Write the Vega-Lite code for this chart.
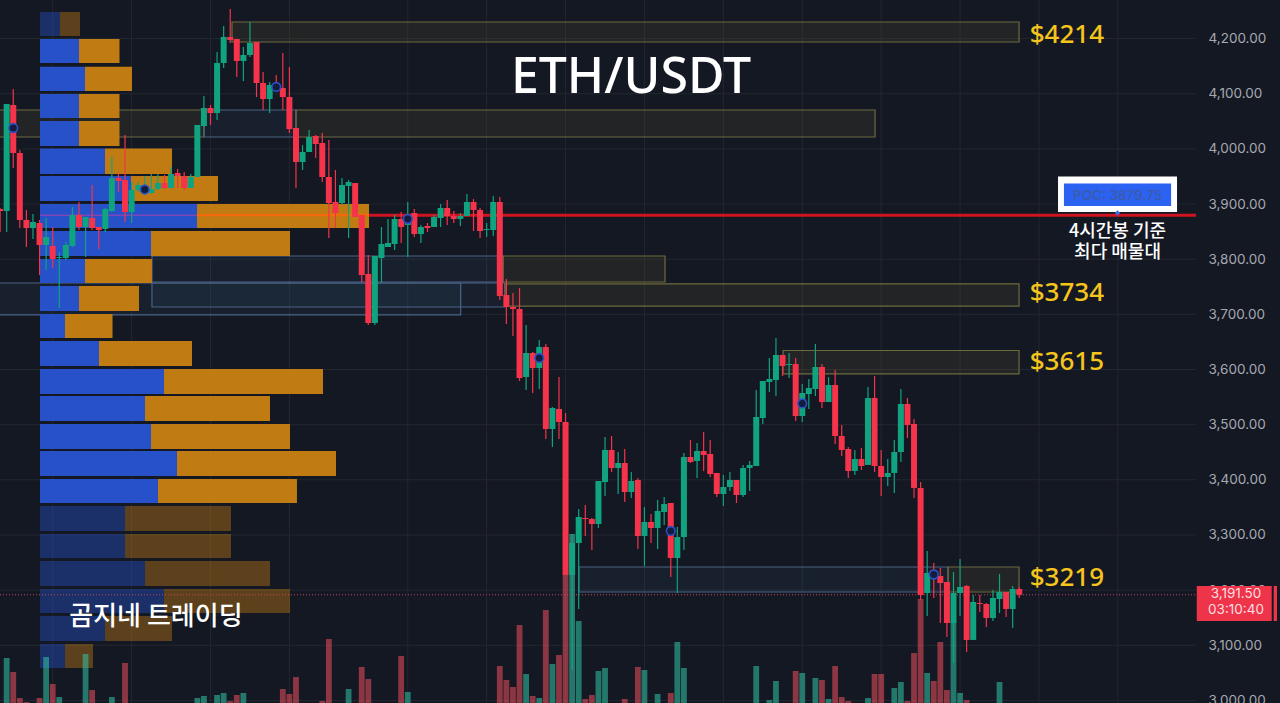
{
  "$schema": "https://vega.github.io/schema/vega-lite/v6.json",
  "width": 1280,
  "height": 703,
  "padding": 0,
  "autosize": {"type": "none"},
  "background": "#141823",
  "config": {"view": {"stroke": null}, "scale": {"continuousPadding": 0}},
  "datasets": {
    "levels": [
      {"price": 3000}, {"price": 3100}, {"price": 3200}, {"price": 3300}, {"price": 3400}, {"price": 3500}, {"price": 3600},
      {"price": 3700}, {"price": 3800}, {"price": 3900}, {"price": 4000}, {"price": 4100}, {"price": 4200}
    ],
    "sessions": [
      {"i": 7}, {"i": 19}, {"i": 31}, {"i": 43}, {"i": 61}, {"i": 73}, {"i": 85}, {"i": 97},
      {"i": 109}, {"i": 121}, {"i": 133}, {"i": 145}, {"i": 157}, {"i": 169}
    ],
    "profile": [
      {"low": 4204.7, "high": 4248.2, "start": 5.07, "split": 8.11, "end": 11.15, "area": "outside"},
      {"low": 4155.8, "high": 4199.3, "start": 5.07, "split": 11.0, "end": 17.16, "area": "value"},
      {"low": 4105, "high": 4149.1, "start": 5.07, "split": 11.91, "end": 19.06, "area": "value"},
      {"low": 4056, "high": 4099.6, "start": 5.07, "split": 11.0, "end": 17.16, "area": "value"},
      {"low": 4005.3, "high": 4050.6, "start": 5.07, "split": 11.0, "end": 17.16, "area": "value"},
      {"low": 3954.5, "high": 4000.8, "start": 5.07, "split": 14.95, "end": 25.15, "area": "value"},
      {"low": 3905.5, "high": 3950.9, "start": 5.07, "split": 18.91, "end": 32.14, "area": "value"},
      {"low": 3856.6, "high": 3900.1, "start": 5.07, "split": 28.95, "end": 55.11, "area": "value"},
      {"low": 3805.8, "high": 3851.1, "start": 5.07, "split": 21.95, "end": 43.09, "area": "value"},
      {"low": 3756.9, "high": 3800.4, "start": 5.07, "split": 11.91, "end": 22.1, "area": "value"},
      {"low": 3706.1, "high": 3751.4, "start": 5.07, "split": 11.0, "end": 20.13, "area": "value"},
      {"low": 3657.1, "high": 3700.7, "start": 5.07, "split": 8.87, "end": 16.1, "area": "value"},
      {"low": 3606.4, "high": 3651.7, "start": 5.07, "split": 14.04, "end": 28.19, "area": "value"},
      {"low": 3555.6, "high": 3600.9, "start": 5.07, "split": 23.93, "end": 48.11, "area": "value"},
      {"low": 3506.6, "high": 3552, "start": 5.07, "split": 21.04, "end": 40.05, "area": "value"},
      {"low": 3455.9, "high": 3501.2, "start": 5.07, "split": 21.95, "end": 43.09, "area": "value"},
      {"low": 3406.9, "high": 3452.2, "start": 5.07, "split": 25.9, "end": 50.09, "area": "value"},
      {"low": 3357.9, "high": 3401.5, "start": 5.07, "split": 23.01, "end": 44.15, "area": "value"},
      {"low": 3307.2, "high": 3352.5, "start": 5.07, "split": 17.99, "end": 34.12, "area": "outside"},
      {"low": 3258.2, "high": 3301.7, "start": 5.07, "split": 17.99, "end": 34.12, "area": "outside"},
      {"low": 3207.5, "high": 3252.8, "start": 5.07, "split": 21.04, "end": 40.05, "area": "outside"},
      {"low": 3158.5, "high": 3202, "start": 5.07, "split": 23.93, "end": 43.09, "area": "outside"},
      {"low": 3107.8, "high": 3153.1, "start": 5.07, "split": 14.95, "end": 25.15, "area": "outside"},
      {"low": 3058.8, "high": 3102.3, "start": 5.07, "split": 8.87, "end": 13.13, "area": "outside"}
    ],
    "zones": [
      {"from": 34.27, "to": 153.97, "top": 4230.1, "bottom": 4193.8, "kind": "open"},
      {"from": -3, "to": 30.01, "top": 4070.5, "bottom": 4021.6, "kind": "open"},
      {"from": 30.01, "to": 44.0, "top": 4070.5, "bottom": 4021.6, "kind": "mitigated"},
      {"from": 44.0, "to": 132.07, "top": 4070.5, "bottom": 4021.6, "kind": "open"},
      {"from": 22.1, "to": 75.49, "top": 3805.8, "bottom": 3758.7, "kind": "mitigated"},
      {"from": 75.49, "to": 100.13, "top": 3805.8, "bottom": 3758.7, "kind": "open"},
      {"from": -3, "to": 69.05, "top": 3756.9, "bottom": 3698.9, "kind": "mitigated"},
      {"from": 22.1, "to": 75.79, "top": 3756.9, "bottom": 3713.3, "kind": "mitigated"},
      {"from": 75.79, "to": 153.97, "top": 3755.1, "bottom": 3715.1, "kind": "open"},
      {"from": 118.08, "to": 153.97, "top": 3634.5, "bottom": 3591.9, "kind": "open"},
      {"from": 87.05, "to": 143.17, "top": 3241.9, "bottom": 3196.6, "kind": "mitigated"},
      {"from": 143.17, "to": 153.97, "top": 3241.9, "bottom": 3196.6, "kind": "open"}
    ],
    "poc": [
      {"from": 5.07, "to": 28.95, "price": 3879.75, "part": "buy"},
      {"from": 28.95, "to": 55.11, "price": 3879.75, "part": "sell"},
      {"from": 55.11, "to": 180.9, "price": 3879.75, "part": "extend"}
    ],
    "markers": [
      {"i": 1, "price": 4037.9}, {"i": 21, "price": 3926.4}, {"i": 41, "price": 4112.3}, {"i": 61, "price": 3872.9},
      {"i": 81, "price": 3620.9}, {"i": 101, "price": 3307.2}, {"i": 121, "price": 3538.4}, {"i": 141, "price": 3228.3}
    ],
    "boxes": [
      {"from": 159.9, "to": 178, "top": 3950, "bottom": 3885.6, "kind": "frame"},
      {"from": 160.8, "to": 177.1, "top": 3937.3, "bottom": 3896.5, "kind": "poc"},
      {"from": 181, "to": 192.4, "top": 3207.5, "bottom": 3144, "kind": "tag"},
      {"from": 192.7, "to": 193.2, "top": 3207.5, "bottom": 3144, "kind": "tag"}
    ],
    "candles": [
      {"i": -1, "o": 3891, "h": 3892.9, "l": 3849.3, "c": 3887.4},
      {"i": 0, "o": 3887.4, "h": 4081.4, "l": 3849.3, "c": 4081.4, "vol": 45},
      {"i": 1, "o": 4079.6, "h": 4108.6, "l": 3965.4, "c": 3992.6, "vol": 31},
      {"i": 2, "o": 3992.6, "h": 3998, "l": 3856.6, "c": 3871.1, "vol": 5},
      {"i": 3, "o": 3871.1, "h": 3889.2, "l": 3822.1, "c": 3856.6, "vol": 1},
      {"i": 4, "o": 3856.6, "h": 3882, "l": 3836.6, "c": 3867.5},
      {"i": 5, "o": 3865.7, "h": 3871.1, "l": 3771.4, "c": 3825.8, "vol": 5},
      {"i": 6, "o": 3825.8, "h": 3874.7, "l": 3780.4, "c": 3840.3, "vol": 46},
      {"i": 7, "o": 3824, "h": 3858.4, "l": 3784.1, "c": 3800.4, "vol": 19},
      {"i": 8, "o": 3802.2, "h": 3813.1, "l": 3711.5, "c": 3804, "vol": 6},
      {"i": 9, "o": 3802.2, "h": 3831.2, "l": 3798.6, "c": 3825.8},
      {"i": 10, "o": 3824, "h": 3894.7, "l": 3822.1, "c": 3880.2},
      {"i": 11, "o": 3880.2, "h": 3903.7, "l": 3853, "c": 3858.4},
      {"i": 12, "o": 3858.4, "h": 3876.5, "l": 3804, "c": 3876.5, "vol": 49},
      {"i": 13, "o": 3874.7, "h": 3934.6, "l": 3853, "c": 3856.6, "vol": 13},
      {"i": 14, "o": 3858.4, "h": 3858.4, "l": 3818.5, "c": 3853},
      {"i": 15, "o": 3854.8, "h": 3892.9, "l": 3849.3, "c": 3891},
      {"i": 16, "o": 3887.4, "h": 3985.3, "l": 3885.6, "c": 3947.2, "vol": 6},
      {"i": 17, "o": 3947.2, "h": 3956.3, "l": 3921.9, "c": 3941.8},
      {"i": 18, "o": 3943.6, "h": 4025.2, "l": 3867.5, "c": 3885.6, "vol": 40},
      {"i": 19, "o": 3885.6, "h": 3940, "l": 3865.7, "c": 3925.5},
      {"i": 20, "o": 3925.5, "h": 3940, "l": 3921.9, "c": 3934.6},
      {"i": 21, "o": 3923.7, "h": 3950.9, "l": 3916.4, "c": 3932.7},
      {"i": 22, "o": 3920, "h": 3954.5, "l": 3918.2, "c": 3927.3},
      {"i": 23, "o": 3927.3, "h": 3954.5, "l": 3925.5, "c": 3938.2},
      {"i": 24, "o": 3938.2, "h": 3952.7, "l": 3927.3, "c": 3929.1},
      {"i": 25, "o": 3929.1, "h": 3967.2, "l": 3929.1, "c": 3954.5},
      {"i": 26, "o": 3956.3, "h": 3963.6, "l": 3929.1, "c": 3950.9},
      {"i": 27, "o": 3950.9, "h": 3958.1, "l": 3925.5, "c": 3929.1},
      {"i": 28, "o": 3929.1, "h": 3954.5, "l": 3929.1, "c": 3949.1},
      {"i": 29, "o": 3949.1, "h": 4043.4, "l": 3949.1, "c": 4043.4, "vol": 5},
      {"i": 30, "o": 4041.5, "h": 4095.9, "l": 4039.7, "c": 4074.2, "vol": 7},
      {"i": 31, "o": 4074.2, "h": 4079.6, "l": 4043.4, "c": 4065.1},
      {"i": 32, "o": 4065.1, "h": 4175.7, "l": 4052.4, "c": 4155.8, "vol": 8},
      {"i": 33, "o": 4155.8, "h": 4222.9, "l": 4146.7, "c": 4202.9, "vol": 10},
      {"i": 34, "o": 4202.9, "h": 4253.7, "l": 4192, "c": 4197.5, "vol": 2},
      {"i": 35, "o": 4199.3, "h": 4199.3, "l": 4130.4, "c": 4159.4, "vol": 8},
      {"i": 36, "o": 4159.4, "h": 4184.8, "l": 4123.1, "c": 4170.3, "vol": 10},
      {"i": 37, "o": 4170.3, "h": 4230.1, "l": 4166.6, "c": 4192},
      {"i": 38, "o": 4193.8, "h": 4193.8, "l": 4094.1, "c": 4119.5},
      {"i": 39, "o": 4119.5, "h": 4139.4, "l": 4070.5, "c": 4090.5},
      {"i": 40, "o": 4090.5, "h": 4121.3, "l": 4065.1, "c": 4115.9},
      {"i": 41, "o": 4119.5, "h": 4134, "l": 4106.8, "c": 4112.3},
      {"i": 42, "o": 4110.4, "h": 4173.9, "l": 4070.5, "c": 4094.1, "vol": 14},
      {"i": 43, "o": 4094.1, "h": 4148.5, "l": 4028.8, "c": 4036, "vol": 9},
      {"i": 44, "o": 4037.9, "h": 4037.9, "l": 3929.1, "c": 3976.3, "vol": 26},
      {"i": 45, "o": 3976.3, "h": 4007.1, "l": 3961.8, "c": 3994.4},
      {"i": 46, "o": 3994.4, "h": 4034.3, "l": 3994.4, "c": 4021.6},
      {"i": 47, "o": 4023.4, "h": 4025.2, "l": 3983.5, "c": 4008.9},
      {"i": 48, "o": 4010.7, "h": 4028.8, "l": 3940, "c": 3949.1, "vol": 2},
      {"i": 49, "o": 3949.1, "h": 4016.2, "l": 3838.5, "c": 3901.9, "vol": 64},
      {"i": 50, "o": 3903.7, "h": 3961.8, "l": 3856.6, "c": 3883.8},
      {"i": 51, "o": 3901.9, "h": 3947.2, "l": 3898.3, "c": 3934.6},
      {"i": 52, "o": 3932.7, "h": 3943.6, "l": 3838.5, "c": 3940, "vol": 14},
      {"i": 53, "o": 3938.2, "h": 3938.2, "l": 3876.5, "c": 3876.5},
      {"i": 54, "o": 3880.2, "h": 3880.2, "l": 3758.7, "c": 3771.4, "vol": 36},
      {"i": 55, "o": 3773.2, "h": 3807.6, "l": 3680.7, "c": 3684.3, "vol": 24},
      {"i": 56, "o": 3684.3, "h": 3805.8, "l": 3680.7, "c": 3805.8},
      {"i": 57, "o": 3802.2, "h": 3858.4, "l": 3758.7, "c": 3827.6},
      {"i": 58, "o": 3822.1, "h": 3872.9, "l": 3822.1, "c": 3829.4},
      {"i": 59, "o": 3827.6, "h": 3880.2, "l": 3816.7, "c": 3872.9},
      {"i": 60, "o": 3872.9, "h": 3885.6, "l": 3829.4, "c": 3858.4, "vol": 47},
      {"i": 61, "o": 3862, "h": 3903.7, "l": 3804, "c": 3876.5, "vol": 11},
      {"i": 62, "o": 3883.8, "h": 3891, "l": 3840.3, "c": 3845.7},
      {"i": 63, "o": 3845.7, "h": 3862, "l": 3829.4, "c": 3858.4},
      {"i": 64, "o": 3860.2, "h": 3865.7, "l": 3849.3, "c": 3856.6},
      {"i": 65, "o": 3858.4, "h": 3880.2, "l": 3858.4, "c": 3876.5},
      {"i": 66, "o": 3874.7, "h": 3900.1, "l": 3858.4, "c": 3892.9},
      {"i": 67, "o": 3892.9, "h": 3907.4, "l": 3862, "c": 3878.3},
      {"i": 68, "o": 3878.3, "h": 3887.4, "l": 3865.7, "c": 3872.9},
      {"i": 69, "o": 3872.9, "h": 3883.8, "l": 3860.2, "c": 3878.3},
      {"i": 70, "o": 3878.3, "h": 3918.2, "l": 3878.3, "c": 3903.7},
      {"i": 71, "o": 3903.7, "h": 3909.2, "l": 3851.1, "c": 3889.2},
      {"i": 72, "o": 3889.2, "h": 3892.9, "l": 3838.5, "c": 3851.1},
      {"i": 73, "o": 3853, "h": 3865.7, "l": 3840.3, "c": 3854.8},
      {"i": 74, "o": 3853, "h": 3914.6, "l": 3842.1, "c": 3903.7},
      {"i": 75, "o": 3903.7, "h": 3912.8, "l": 3726, "c": 3733.3, "vol": 37},
      {"i": 76, "o": 3735.1, "h": 3764.1, "l": 3682.5, "c": 3713.3, "vol": 23},
      {"i": 77, "o": 3713.3, "h": 3738.7, "l": 3660.8, "c": 3709.7, "vol": 16},
      {"i": 78, "o": 3709.7, "h": 3747.8, "l": 3579.2, "c": 3584.6, "vol": 78},
      {"i": 79, "o": 3586.4, "h": 3680.7, "l": 3562.9, "c": 3629.9, "vol": 29},
      {"i": 80, "o": 3629.9, "h": 3631.8, "l": 3557.4, "c": 3602.7, "vol": 7},
      {"i": 81, "o": 3602.7, "h": 3653.5, "l": 3564.7, "c": 3640.8, "vol": 5},
      {"i": 82, "o": 3640.8, "h": 3646.3, "l": 3474, "c": 3492.1, "vol": 93},
      {"i": 83, "o": 3492.1, "h": 3532, "l": 3459.5, "c": 3530.2, "vol": 39},
      {"i": 84, "o": 3528.4, "h": 3586.4, "l": 3474, "c": 3504.8, "vol": 48},
      {"i": 85, "o": 3504.8, "h": 3521.1, "l": 3227.4, "c": 3227.4, "vol": 128},
      {"i": 86, "o": 3227.4, "h": 3301.7, "l": 3055.2, "c": 3285.4, "vol": 169},
      {"i": 87, "o": 3285.4, "h": 3347, "l": 3165.8, "c": 3332.6, "vol": 82},
      {"i": 88, "o": 3330.8, "h": 3354.3, "l": 3298.1, "c": 3328.9, "vol": 4},
      {"i": 89, "o": 3328.9, "h": 3330.8, "l": 3272.7, "c": 3319.9, "vol": 8},
      {"i": 90, "o": 3319.9, "h": 3397.8, "l": 3312.6, "c": 3397.8, "vol": 32},
      {"i": 91, "o": 3396, "h": 3477.6, "l": 3370.7, "c": 3454.1, "vol": 35},
      {"i": 92, "o": 3454.1, "h": 3479.4, "l": 3414.2, "c": 3421.4},
      {"i": 93, "o": 3421.4, "h": 3450.4, "l": 3374.3, "c": 3430.5},
      {"i": 94, "o": 3430.5, "h": 3455.9, "l": 3359.8, "c": 3377.9, "vol": 4},
      {"i": 95, "o": 3377.9, "h": 3414.2, "l": 3367, "c": 3397.8},
      {"i": 96, "o": 3399.7, "h": 3403.3, "l": 3274.5, "c": 3298.1, "vol": 36},
      {"i": 97, "o": 3298.1, "h": 3350.7, "l": 3243.7, "c": 3323.5, "vol": 33},
      {"i": 98, "o": 3323.5, "h": 3338, "l": 3285.4, "c": 3312.6},
      {"i": 99, "o": 3312.6, "h": 3363.4, "l": 3274.5, "c": 3343.4, "vol": 9},
      {"i": 100, "o": 3341.6, "h": 3368.8, "l": 3318.1, "c": 3356.1},
      {"i": 101, "o": 3357.9, "h": 3357.9, "l": 3223.8, "c": 3258.2, "vol": 10},
      {"i": 102, "o": 3258.2, "h": 3314.4, "l": 3194.8, "c": 3296.3, "vol": 61},
      {"i": 103, "o": 3296.3, "h": 3448.6, "l": 3272.7, "c": 3441.4, "vol": 35},
      {"i": 104, "o": 3441.4, "h": 3472.2, "l": 3430.5, "c": 3432.3},
      {"i": 105, "o": 3434.1, "h": 3466.8, "l": 3403.3, "c": 3452.2},
      {"i": 106, "o": 3452.2, "h": 3486.7, "l": 3416, "c": 3445},
      {"i": 107, "o": 3446.8, "h": 3472.2, "l": 3405.1, "c": 3410.5},
      {"i": 108, "o": 3412.4, "h": 3412.4, "l": 3368.8, "c": 3374.3},
      {"i": 109, "o": 3374.3, "h": 3408.7, "l": 3352.5, "c": 3387},
      {"i": 110, "o": 3387, "h": 3414.2, "l": 3379.7, "c": 3399.7},
      {"i": 111, "o": 3399.7, "h": 3399.7, "l": 3357.9, "c": 3372.5},
      {"i": 112, "o": 3372.5, "h": 3426.9, "l": 3368.8, "c": 3421.4},
      {"i": 113, "o": 3421.4, "h": 3434.1, "l": 3379.7, "c": 3426.9},
      {"i": 114, "o": 3425, "h": 3562.9, "l": 3425, "c": 3513.9, "vol": 37},
      {"i": 115, "o": 3512.1, "h": 3579.2, "l": 3501.2, "c": 3579.2},
      {"i": 116, "o": 3577.4, "h": 3620.9, "l": 3559.2, "c": 3582.8, "vol": 3},
      {"i": 117, "o": 3581, "h": 3657.1, "l": 3552, "c": 3626.3, "vol": 22},
      {"i": 118, "o": 3626.3, "h": 3626.3, "l": 3588.2, "c": 3606.4},
      {"i": 119, "o": 3608.2, "h": 3629.9, "l": 3584.6, "c": 3610},
      {"i": 120, "o": 3610, "h": 3620.9, "l": 3506.6, "c": 3515.7, "vol": 32},
      {"i": 121, "o": 3515.7, "h": 3573.7, "l": 3504.8, "c": 3557.4, "vol": 30},
      {"i": 122, "o": 3555.6, "h": 3582.8, "l": 3528.4, "c": 3566.5},
      {"i": 123, "o": 3564.7, "h": 3646.3, "l": 3552, "c": 3604.6, "vol": 25},
      {"i": 124, "o": 3604.6, "h": 3610, "l": 3530.2, "c": 3541.1, "vol": 23},
      {"i": 125, "o": 3541.1, "h": 3586.4, "l": 3541.1, "c": 3571.9, "vol": 4},
      {"i": 126, "o": 3571.9, "h": 3599.1, "l": 3464.9, "c": 3479.4, "vol": 37},
      {"i": 127, "o": 3479.4, "h": 3499.4, "l": 3443.2, "c": 3454.1, "vol": 6},
      {"i": 128, "o": 3455.9, "h": 3459.5, "l": 3403.3, "c": 3416, "vol": 2},
      {"i": 129, "o": 3416, "h": 3454.1, "l": 3408.7, "c": 3437.7},
      {"i": 130, "o": 3437.7, "h": 3457.7, "l": 3417.8, "c": 3425},
      {"i": 131, "o": 3426.9, "h": 3568.3, "l": 3426.9, "c": 3548.3, "vol": 5},
      {"i": 132, "o": 3548.3, "h": 3588.2, "l": 3414.2, "c": 3425, "vol": 29},
      {"i": 133, "o": 3425, "h": 3454.1, "l": 3370.7, "c": 3405.1, "vol": 29},
      {"i": 134, "o": 3405.1, "h": 3437.7, "l": 3388.8, "c": 3412.4},
      {"i": 135, "o": 3412.4, "h": 3472.2, "l": 3376.1, "c": 3450.4, "vol": 15},
      {"i": 136, "o": 3450.4, "h": 3564.7, "l": 3432.3, "c": 3537.5, "vol": 21},
      {"i": 137, "o": 3537.5, "h": 3548.3, "l": 3475.8, "c": 3499.4, "vol": 2},
      {"i": 138, "o": 3501.2, "h": 3510.3, "l": 3367, "c": 3385.2, "vol": 50},
      {"i": 139, "o": 3385.2, "h": 3396, "l": 3182.1, "c": 3191.1, "vol": 104},
      {"i": 140, "o": 3194.8, "h": 3270.9, "l": 3153.1, "c": 3231, "vol": 30},
      {"i": 141, "o": 3236.5, "h": 3249.2, "l": 3185.7, "c": 3222, "vol": 22},
      {"i": 142, "o": 3225.6, "h": 3240.1, "l": 3140.4, "c": 3212.9, "vol": 61},
      {"i": 143, "o": 3214.7, "h": 3214.7, "l": 3115, "c": 3140.4, "vol": 13},
      {"i": 144, "o": 3140.4, "h": 3232.8, "l": 3067.8, "c": 3194.8, "vol": 81},
      {"i": 145, "o": 3194.8, "h": 3256.4, "l": 3153.1, "c": 3205.7, "vol": 10},
      {"i": 146, "o": 3207.5, "h": 3209.3, "l": 3087.8, "c": 3109.6, "vol": 3},
      {"i": 147, "o": 3109.6, "h": 3191.1, "l": 3109.6, "c": 3178.5},
      {"i": 148, "o": 3176.6, "h": 3191.1, "l": 3160.3, "c": 3174.8},
      {"i": 149, "o": 3174.8, "h": 3176.6, "l": 3133.1, "c": 3149.4},
      {"i": 150, "o": 3149.4, "h": 3200.2, "l": 3144, "c": 3185.7},
      {"i": 151, "o": 3183.9, "h": 3229.2, "l": 3158.5, "c": 3196.6, "vol": 21},
      {"i": 152, "o": 3196.6, "h": 3196.6, "l": 3151.3, "c": 3165.8},
      {"i": 153, "o": 3165.8, "h": 3207.5, "l": 3131.3, "c": 3202},
      {"i": 154, "o": 3202, "h": 3205.7, "l": 3185.7, "c": 3191.5}
    ]
  },
  "layer": [
    {
      "data": {"name": "levels"},
      "mark": {"type": "rule", "color": "#232730", "strokeWidth": 1},
      "encoding": {
        "x": {"datum": -1.0144, "type": "quantitative", "scale": {"domain": [-1.0144, 193.66]}, "axis": null},
        "x2": {"datum": 180.9},
        "y": {
          "field": "price",
          "type": "quantitative",
          "scale": {"domain": [2995.3, 4270]},
          "axis": {
            "orient": "right",
            "values": [3000, 3100, 3200, 3300, 3400, 3500, 3600, 3700, 3800, 3900, 4000, 4100, 4200],
            "format": ",.2f",
            "title": null,
            "domain": false,
            "ticks": false,
            "grid": false,
            "labelPadding": -72,
            "labelAlign": "left",
            "labelFont": "Inter",
            "labelFontSize": 13.5,
            "labelColor": "#a6a9b1"
          }
        }
      }
    },
    {
      "layer": [
        {
          "data": {"name": "sessions"},
          "mark": {"type": "rule", "color": "#232730", "strokeWidth": 1},
          "encoding": {
            "x": {"field": "i", "type": "quantitative", "scale": {"domain": [-1.0144, 193.66]}, "axis": null}
          }
        },
        {
          "data": {"name": "zones"},
          "mark": {"type": "rect", "strokeWidth": 1.2},
          "encoding": {
            "x": {"field": "from", "type": "quantitative", "scale": {"domain": [-1.0144, 193.66]}, "axis": null},
            "x2": {"field": "to"},
            "y": {"field": "top", "type": "quantitative", "scale": {"domain": [2995.3, 4270]}, "axis": null},
            "y2": {"field": "bottom"},
            "fill": {"field": "kind", "type": "nominal", "scale": {"domain": ["open", "mitigated"], "range": ["rgba(125,112,50,0.14)", "rgba(70,120,170,0.09)"]}, "legend": null},
            "stroke": {"field": "kind", "type": "nominal", "scale": {"domain": ["open", "mitigated"], "range": ["#6d6b3e", "#4a6385"]}, "legend": null}
          }
        },
        {
          "data": {"name": "profile"},
          "mark": {"type": "rect", "color": "#2651c9"},
          "encoding": {
            "x": {"field": "start", "type": "quantitative", "scale": {"domain": [-1.0144, 193.66]}, "axis": null},
            "x2": {"field": "split"},
            "y": {"field": "high", "type": "quantitative", "scale": {"domain": [2995.3, 4270]}, "axis": null},
            "y2": {"field": "low"},
            "opacity": {"field": "area", "type": "nominal", "scale": {"domain": ["value", "outside"], "range": [1, 0.42]}, "legend": null}
          }
        },
        {
          "data": {"name": "profile"},
          "mark": {"type": "rect", "color": "#c07b12"},
          "encoding": {
            "x": {"field": "split", "type": "quantitative", "scale": {"domain": [-1.0144, 193.66]}, "axis": null},
            "x2": {"field": "end"},
            "y": {"field": "high", "type": "quantitative", "scale": {"domain": [2995.3, 4270]}, "axis": null},
            "y2": {"field": "low"},
            "opacity": {"field": "area", "type": "nominal", "scale": {"domain": ["value", "outside"], "range": [1, 0.42]}, "legend": null}
          }
        }
      ]
    },
    {
      "data": {"name": "candles"},
      "transform": [{"filter": "datum.vol > 0"}],
      "mark": {"type": "bar", "size": 5.8, "orient": "vertical", "opacity": 0.55},
      "encoding": {
        "x": {"field": "i", "type": "quantitative", "scale": {"domain": [-1.0144, 193.66]}, "axis": null},
        "y": {"field": "vol", "type": "quantitative", "stack": null, "scale": {"domain": [0, 703]}, "axis": null},
        "color": {"condition": {"test": "datum.c >= datum.o", "value": "#32c6a8"}, "value": "#f0505f"}
      }
    },
    {
      "layer": [
        {
          "data": {"name": "poc"},
          "mark": {"type": "rule"},
          "encoding": {
            "x": {"field": "from", "type": "quantitative", "scale": {"domain": [-1.0144, 193.66]}, "axis": null},
            "x2": {"field": "to"},
            "y": {"field": "price", "type": "quantitative", "scale": {"domain": [2995.3, 4270]}, "axis": null},
            "color": {"field": "part", "type": "nominal", "scale": {"domain": ["buy", "sell", "extend"], "range": ["#7d46b8", "#f46a0a", "#cf141f"]}, "legend": null},
            "strokeWidth": {"field": "part", "type": "nominal", "scale": {"domain": ["buy", "sell", "extend"], "range": [1.5, 3, 3]}, "legend": null}
          }
        },
        {
          "data": {"values": [{"from": -1.0144, "to": 181, "price": 3191.5}]},
          "mark": {"type": "rule", "color": "#c4475a", "strokeWidth": 1, "strokeDash": [1, 2]},
          "encoding": {
            "x": {"field": "from", "type": "quantitative", "scale": {"domain": [-1.0144, 193.66]}, "axis": null},
            "x2": {"field": "to"},
            "y": {"field": "price", "type": "quantitative", "scale": {"domain": [2995.3, 4270]}, "axis": null}
          }
        },
        {
          "data": {"name": "candles"},
          "mark": {"type": "rule", "strokeWidth": 1.2},
          "encoding": {
            "x": {"field": "i", "type": "quantitative", "scale": {"domain": [-1.0144, 193.66]}, "axis": null},
            "y": {"field": "h", "type": "quantitative", "scale": {"domain": [2995.3, 4270]}, "axis": null},
            "y2": {"field": "l"},
            "color": {"condition": {"test": "datum.c >= datum.o", "value": "#10a37f"}, "value": "#f5334a"}
          }
        },
        {
          "data": {"name": "candles"},
          "mark": {"type": "bar", "size": 6, "orient": "vertical"},
          "encoding": {
            "x": {"field": "i", "type": "quantitative", "scale": {"domain": [-1.0144, 193.66]}, "axis": null},
            "y": {"field": "o", "type": "quantitative", "scale": {"domain": [2995.3, 4270]}, "axis": null},
            "y2": {"field": "c"},
            "color": {"condition": {"test": "datum.c >= datum.o", "value": "#10a37f"}, "value": "#f5334a"}
          }
        },
        {
          "data": {"name": "markers"},
          "mark": {"type": "point", "shape": "circle", "filled": true, "size": 75, "fill": "#121c3c", "stroke": "#2b50c8", "strokeWidth": 1.6, "opacity": 1},
          "encoding": {
            "x": {"field": "i", "type": "quantitative", "scale": {"domain": [-1.0144, 193.66]}, "axis": null},
            "y": {"field": "price", "type": "quantitative", "scale": {"domain": [2995.3, 4270]}, "axis": null}
          }
        },
        {
          "data": {"name": "boxes"},
          "transform": [{"filter": "datum.kind == 'frame'"}],
          "mark": {"type": "rect", "color": "#ffffff"},
          "encoding": {
            "x": {"field": "from", "type": "quantitative", "scale": {"domain": [-1.0144, 193.66]}, "axis": null},
            "x2": {"field": "to"},
            "y": {"field": "top", "type": "quantitative", "scale": {"domain": [2995.3, 4270]}, "axis": null},
            "y2": {"field": "bottom"}
          }
        },
        {
          "data": {"name": "boxes"},
          "transform": [{"filter": "datum.kind == 'poc'"}],
          "mark": {"type": "rect", "color": "#2b62f2"},
          "encoding": {
            "x": {"field": "from", "type": "quantitative", "scale": {"domain": [-1.0144, 193.66]}, "axis": null},
            "x2": {"field": "to"},
            "y": {"field": "top", "type": "quantitative", "scale": {"domain": [2995.3, 4270]}, "axis": null},
            "y2": {"field": "bottom"}
          }
        },
        {
          "data": {"name": "boxes"},
          "transform": [{"filter": "datum.kind == 'tag'"}],
          "mark": {"type": "rect", "color": "#ee3449"},
          "encoding": {
            "x": {"field": "from", "type": "quantitative", "scale": {"domain": [-1.0144, 193.66]}, "axis": null},
            "x2": {"field": "to"},
            "y": {"field": "top", "type": "quantitative", "scale": {"domain": [2995.3, 4270]}, "axis": null},
            "y2": {"field": "bottom"}
          }
        },
        {
          "data": {"values": [{"i": 168.95, "price": 3883.8}]},
          "mark": {"type": "point", "shape": "diamond", "filled": true, "size": 30, "color": "#3b6fe0", "opacity": 1},
          "encoding": {
            "x": {"field": "i", "type": "quantitative", "scale": {"domain": [-1.0144, 193.66]}, "axis": null},
            "y": {"field": "price", "type": "quantitative", "scale": {"domain": [2995.3, 4270]}, "axis": null}
          }
        },
        {
          "data": {"values": [{"i": 168.95, "price": 3914.6, "label": "POC: 3879.75"}]},
          "mark": {"type": "text", "font": "Inter", "fontSize": 13.5, "fontWeight": 500, "color": "#3d5aa8", "align": "center", "baseline": "middle"},
          "encoding": {
            "x": {"field": "i", "type": "quantitative", "scale": {"domain": [-1.0144, 193.66]}, "axis": null},
            "y": {"field": "price", "type": "quantitative", "scale": {"domain": [2995.3, 4270]}, "axis": null},
            "text": {"field": "label"}
          }
        },
        {
          "data": {"values": [{"i": 94.95, "price": 4128.6, "label": "ETH/USDT"}]},
          "mark": {"type": "text", "font": "Noto Sans", "fontSize": 50, "fontWeight": 500, "color": "#ffffff", "align": "center", "baseline": "middle"},
          "encoding": {
            "x": {"field": "i", "type": "quantitative", "scale": {"domain": [-1.0144, 193.66]}, "axis": null},
            "y": {"field": "price", "type": "quantitative", "scale": {"domain": [2995.3, 4270]}, "axis": null},
            "text": {"field": "label"}
          }
        },
        {
          "data": {"values": [
            {"i": 155.6, "price": 4206.2, "label": "$4214"},
            {"i": 155.6, "price": 3739, "label": "$3734"},
            {"i": 155.6, "price": 3613.4, "label": "$3615"},
            {"i": 155.6, "price": 3221.8, "label": "$3219"}
          ]},
          "mark": {"type": "text", "font": "Noto Sans", "fontSize": 26, "fontWeight": 500, "color": "#f6c51c", "align": "left", "baseline": "middle"},
          "encoding": {
            "x": {"field": "i", "type": "quantitative", "scale": {"domain": [-1.0144, 193.66]}, "axis": null},
            "y": {"field": "price", "type": "quantitative", "scale": {"domain": [2995.3, 4270]}, "axis": null},
            "text": {"field": "label"}
          }
        },
        {
          "data": {"values": [
            {"i": 168.95, "price": 3850, "label": "4시간봉 기준"},
            {"i": 168.95, "price": 3811, "label": "최다 매물대"}
          ]},
          "mark": {"type": "text", "font": "Noto Sans CJK KR", "fontSize": 18, "fontWeight": 500, "color": "#ffffff", "align": "center", "baseline": "middle"},
          "encoding": {
            "x": {"field": "i", "type": "quantitative", "scale": {"domain": [-1.0144, 193.66]}, "axis": null},
            "y": {"field": "price", "type": "quantitative", "scale": {"domain": [2995.3, 4270]}, "axis": null},
            "text": {"field": "label"}
          }
        },
        {
          "data": {"values": [{"i": 22.7, "price": 3151.3, "label": "곰지네 트레이딩"}]},
          "mark": {"type": "text", "font": "Noto Sans CJK KR", "fontSize": 26, "fontWeight": 500, "color": "#ffffff", "align": "center", "baseline": "middle"},
          "encoding": {
            "x": {"field": "i", "type": "quantitative", "scale": {"domain": [-1.0144, 193.66]}, "axis": null},
            "y": {"field": "price", "type": "quantitative", "scale": {"domain": [2995.3, 4270]}, "axis": null},
            "text": {"field": "label"}
          }
        },
        {
          "data": {"values": [
            {"i": 186.97, "price": 3193, "label": "3,191.50"},
            {"i": 186.97, "price": 3163.9, "label": "03:10:40"}
          ]},
          "mark": {"type": "text", "font": "Inter", "fontSize": 13.5, "color": "#ffdfe2", "align": "center", "baseline": "middle"},
          "encoding": {
            "x": {"field": "i", "type": "quantitative", "scale": {"domain": [-1.0144, 193.66]}, "axis": null},
            "y": {"field": "price", "type": "quantitative", "scale": {"domain": [2995.3, 4270]}, "axis": null},
            "text": {"field": "label"}
          }
        }
      ]
    }
  ],
  "resolve": {"scale": {"y": "independent"}}
}
